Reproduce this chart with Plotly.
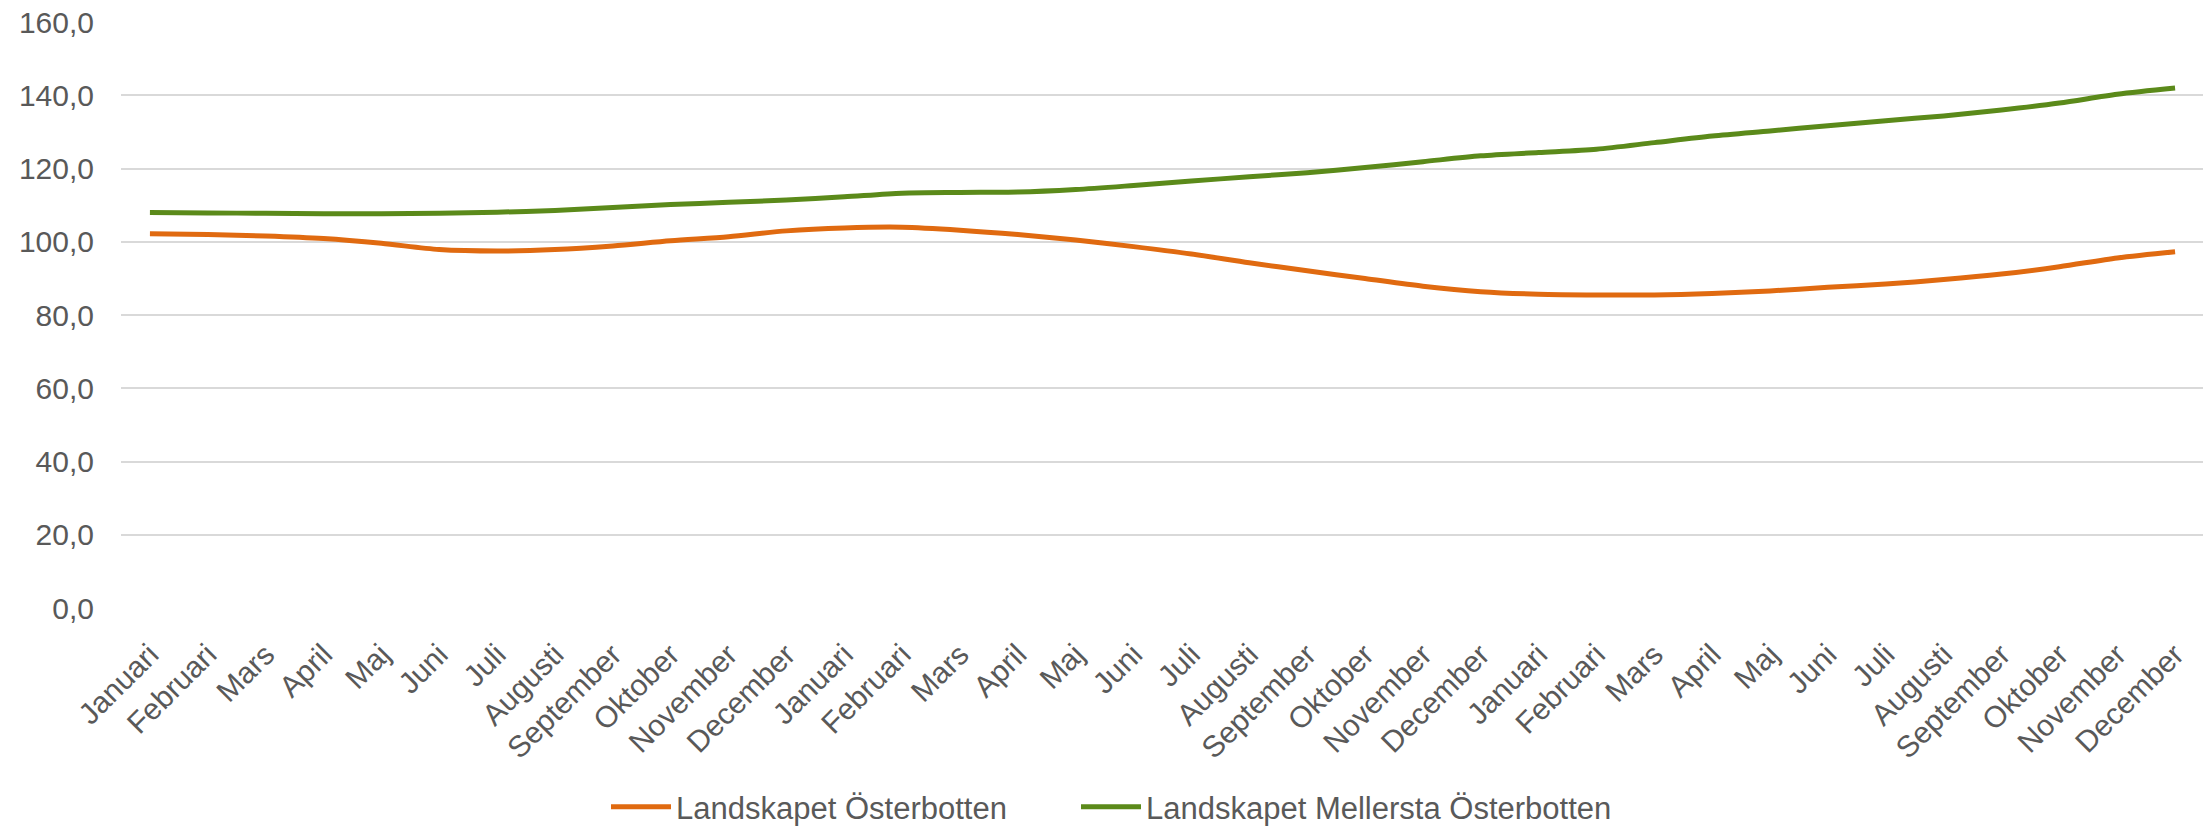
import plotly.graph_objects as go

months = ["Januari", "Februari", "Mars", "April", "Maj", "Juni", "Juli", "Augusti",
          "September", "Oktober", "November", "December"]
categories = months * 3

osterbotten = [102.2, 102.0, 101.6, 100.9, 99.6, 97.9, 97.5, 97.9, 98.9, 100.3, 101.4, 103.0,
               103.8, 104.0, 103.2, 102.0, 100.5, 98.7, 96.7, 94.3, 92.1, 90.0, 87.9, 86.4,
               85.7, 85.5, 85.5, 85.9, 86.6, 87.6, 88.5, 89.7, 91.2, 93.2, 95.6, 97.3]
mellersta = [108.0, 107.9, 107.8, 107.7, 107.7, 107.8, 108.1, 108.6, 109.4, 110.2, 110.8, 111.4,
             112.3, 113.3, 113.5, 113.6, 114.3, 115.4, 116.6, 117.8, 118.9, 120.3, 121.9, 123.5,
             124.4, 125.3, 127.1, 128.9, 130.3, 131.7, 133.1, 134.4, 136.0, 137.9, 140.3, 142.0]

series_names = ["Landskapet Österbotten", "Landskapet Mellersta Österbotten"]
series_colors = ["#E06A10", "#5B8A1A"]

y_ticks = [0, 20, 40, 60, 80, 100, 120, 140, 160]
y_ticktext = [f"{v:.1f}".replace(".", ",") for v in y_ticks]

x_idx = list(range(len(categories)))

fig = go.Figure()
for name, vals, col, lg in zip(series_names, [osterbotten, mellersta], series_colors,
                               ["legend", "legend2"]):
    fig.add_trace(go.Scatter(
        x=x_idx, y=vals, name=name, mode="lines", legend=lg,
        line=dict(color=col, width=5, shape="spline", smoothing=0.8),
    ))

W, H = 2203, 819  # page body has an 8px margin
font_family = "Liberation Sans, Arial, sans-serif"
legend_common = dict(orientation="h", xref="container", yref="container",
                     xanchor="left", y=(H - 799) / H, yanchor="middle",
                     font=dict(size=31, color="#595959"), itemwidth=60,
                     bgcolor="rgba(0,0,0,0)")
fig.update_layout(
    width=W, height=H,
    margin=dict(l=113, r=7, t=14, b=219, autoexpand=False),
    paper_bgcolor="white", plot_bgcolor="white",
    font=dict(family=font_family, size=30, color="#595959"),
    showlegend=True,
    legend=dict(x=(613 - 8 - 7) / W, **legend_common),
    legend2=dict(x=(1083 - 8 - 7) / W, **legend_common),
    xaxis=dict(
        range=[-0.5, len(categories) - 0.5],
        tickmode="array", tickvals=x_idx, ticktext=categories,
        tickangle=-45, showgrid=False, zeroline=False, showline=False,
        ticks="", tickfont=dict(size=30, color="#595959"),
        ticklabelstandoff=22, ticklabeloverflow="allow",
    ),
    yaxis=dict(
        range=[0, 160.05], tickmode="array", tickvals=y_ticks, ticktext=y_ticktext,
        showgrid=True, gridcolor="#D9D9D9", gridwidth=1.5, zeroline=False,
        showline=False, ticks="", tickfont=dict(size=30, color="#595959"),
        ticklabelstandoff=26, ticklabeloverflow="allow",
    ),
)

fig.write_html("out.html")
